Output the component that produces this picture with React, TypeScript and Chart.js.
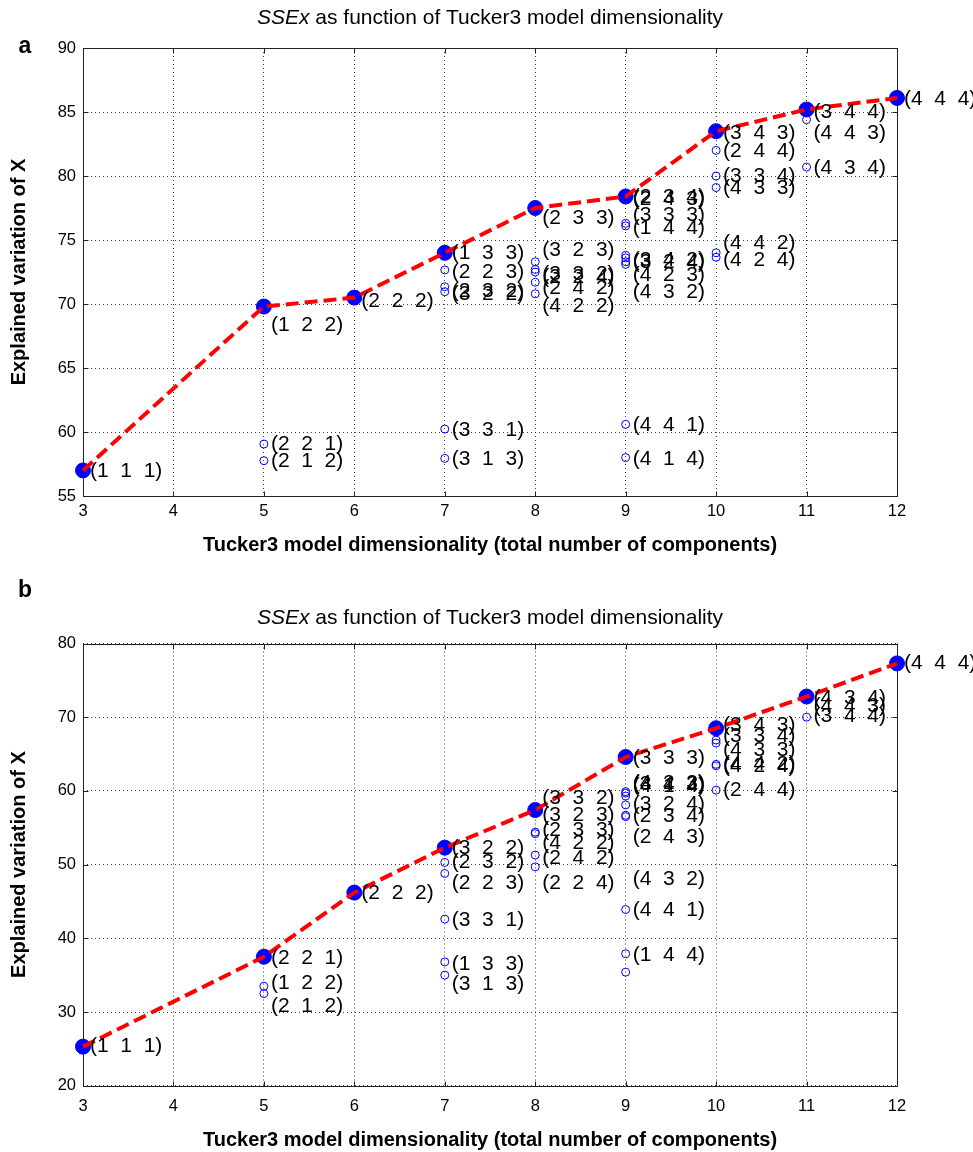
import React, { useEffect, useRef } from "react";
import { Chart, registerables } from "chart.js";

Chart.register(...registerables);

const FONT = '"Liberation Sans", Arial, Helvetica, sans-serif';

// ---------- shared axis data ----------
const xTickValues = [3, 4, 5, 6, 7, 8, 9, 10, 11, 12];
const yTickValuesA = [55, 60, 65, 70, 75, 80, 85, 90];
const yTickValuesB = [20, 30, 40, 50, 60, 70, 80];

const titleRest = " as function of Tucker3 model dimensionality";
const titleItalic = "SSEx";
const xAxisTitle = "Tucker3 model dimensionality (total number of components)";
const yAxisTitle = "Explained variation of X";

// ---------- panel a ----------
const mainXA = [3, 5, 6, 7, 8, 9, 10, 11, 12];
const mainYA = [57.0, 69.8, 70.5, 74.0, 77.5, 78.4, 83.5, 85.2, 86.1];
const mainLabelsA = ["(1  1  1)", "(1  2  2)", "(2  2  2)", "(1  3  3)", "(2  3  3)", "(2  3  4)", "(3  4  3)", "(3  4  4)", "(4  4  4)"];
const mainLabelYA = [56.95, 68.36, 70.18, 73.96, 76.7, 78.36, 83.36, 85.02, 86.0];

const otherXA = [5, 5, 7, 7, 7, 7, 7, 8, 8, 8, 8, 8, 9, 9, 9, 9, 9, 9, 9, 9, 9, 10, 10, 10, 10, 10, 11, 11];
const otherYA = [59.06, 57.76, 72.66, 71.35, 70.96, 60.23, 57.94, 73.3, 72.7, 72.5, 71.7, 70.8, 78.2, 76.3, 76.1, 73.8, 73.6, 73.3, 73.1, 60.6, 58.0, 82.0, 80.0, 79.1, 74.0, 73.65, 84.4, 80.7];
const otherLabelsA = ["(2  2  1)", "(2  1  2)", "(2  2  3)", "(2  3  2)", "(3  2  2)", "(3  3  1)", "(3  1  3)", "(3  2  3)", "(3  3  2)", "(2  2  4)", "(2  4  2)", "(4  2  2)", "(2  4  3)", "(3  3  3)", "(1  4  4)", "(3  4  2)", "(3  2  4)", "(4  2  3)", "(4  3  2)", "(4  4  1)", "(4  1  4)", "(2  4  4)", "(3  3  4)", "(4  3  3)", "(4  4  2)", "(4  2  4)", "(4  4  3)", "(4  3  4)"];
const otherLabelYA = [59.06, 57.68, 72.52, 71.02, 70.78, 60.16, 57.89, 74.2, 72.34, 72.1, 71.23, 69.79, 78.2, 76.95, 75.94, 73.44, 73.28, 72.27, 70.94, 60.55, 57.87, 81.9, 79.95, 79.04, 74.74, 73.44, 83.34, 80.6];

// ---------- panel b ----------
const mainXB = [3, 5, 6, 7, 8, 9, 10, 11, 12];
const mainYB = [25.3, 37.5, 46.2, 52.3, 57.4, 64.6, 68.5, 72.8, 77.3];
const mainLabelsB = ["(1  1  1)", "(2  2  1)", "(2  2  2)", "(3  2  2)", "(3  3  2)", "(3  3  3)", "(3  4  3)", "(4  3  4)", "(4  4  4)"];
const mainLabelYB = [25.3, 37.33, 46.1, 52.25, 59.0, 64.46, 68.94, 72.6, 77.3];

const otherXB = [5, 5, 7, 7, 7, 7, 7, 8, 8, 8, 8, 8, 9, 9, 9, 9, 9, 9, 9, 9, 9, 10, 10, 10, 10, 10, 11, 11];
const otherYB = [33.5, 32.5, 50.3, 48.8, 42.6, 36.8, 35.0, 57.2, 54.4, 54.2, 51.3, 49.7, 59.9, 59.7, 35.4, 59.3, 58.1, 56.7, 56.5, 43.9, 37.9, 66.9, 66.5, 63.6, 63.4, 60.1, 72.6, 70.0];
const otherLabelsB = ["(1  2  2)", "(2  1  2)", "(2  3  2)", "(2  2  3)", "(3  3  1)", "(1  3  3)", "(3  1  3)", "(3  2  3)", "(2  3  3)", "(4  2  2)", "(2  4  2)", "(2  2  4)", "(4  2  3)", "(3  4  2)", "(4  1  4)", "(3  2  4)", "(2  3  4)", "(2  4  3)", "(4  3  2)", "(4  4  1)", "(1  4  4)", "(3  3  4)", "(4  3  3)", "(4  4  2)", "(4  2  4)", "(2  4  4)", "(4  4  3)", "(3  4  4)"];
const otherLabelYB = [33.94, 30.72, 50.39, 47.46, 42.39, 36.47, 33.8, 56.73, 54.7, 52.89, 50.9, 47.46, 61.1, 60.9, 60.7, 58.2, 56.5, 53.7, 48.0, 43.84, 37.73, 67.36, 65.55, 63.65, 63.38, 60.03, 71.43, 70.07];

type PanelCfg = {
  letter: string;
  top: number;
  height: number;
  padTop: number;
  xAxisHeight: number;
  xTickPad: number;
  xTitlePadBottom: number;
  titleY: number;
  letterY: number;
  yMin: number;
  yMax: number;
  yTicks: number[];
  mainX: number[];
  mainY: number[];
  mainLabels: string[];
  mainLabelY: number[];
  otherX: number[];
  otherY: number[];
  otherLabels: string[];
  otherLabelY: number[];
};

const panels: PanelCfg[] = [
  {
    letter: "a", top: 0, height: 575, padTop: 48, xAxisHeight: 79, xTickPad: 6, xTitlePadBottom: 18,
    titleY: 18, letterY: 47, yMin: 55, yMax: 90, yTicks: yTickValuesA,
    mainX: mainXA, mainY: mainYA, mainLabels: mainLabelsA, mainLabelY: mainLabelYA,
    otherX: otherXA, otherY: otherYA, otherLabels: otherLabelsA, otherLabelY: otherLabelYA,
  },
  {
    letter: "b", top: 575, height: 577, padTop: 68.5, xAxisHeight: 66.3, xTickPad: 11, xTitlePadBottom: 0,
    titleY: 43, letterY: 16, yMin: 20, yMax: 80, yTicks: yTickValuesB,
    mainX: mainXB, mainY: mainYB, mainLabels: mainLabelsB, mainLabelY: mainLabelYB,
    otherX: otherXB, otherY: otherYB, otherLabels: otherLabelsB, otherLabelY: otherLabelYB,
  },
];

function makeOverlay(cfg: PanelCfg) {
  return {
    id: "overlay" + cfg.letter,
    beforeDatasetsDraw(chart: any) {
      const { ctx, chartArea } = chart;
      const xs = chart.scales.x;
      const ys = chart.scales.y;
      ctx.save();
      ctx.strokeStyle = "#222";
      ctx.lineWidth = 1;
      ctx.setLineDash([]);
      const l = Math.round(chartArea.left) + 0.5;
      const r = Math.round(chartArea.right) + 0.5;
      const t = Math.round(chartArea.top) + 0.5;
      const b = Math.round(chartArea.bottom) + 0.5;
      ctx.strokeRect(l, t, r - l, b - t);
      const tl = 5;
      ctx.beginPath();
      xTickValues.forEach((v) => {
        const px = Math.round(xs.getPixelForValue(v)) + 0.5;
        ctx.moveTo(px, b);
        ctx.lineTo(px, b - tl);
        ctx.moveTo(px, t);
        ctx.lineTo(px, t + tl);
      });
      cfg.yTicks.forEach((v) => {
        const py = Math.round(ys.getPixelForValue(v)) + 0.5;
        ctx.moveTo(l, py);
        ctx.lineTo(l + tl, py);
        ctx.moveTo(r, py);
        ctx.lineTo(r - tl, py);
      });
      ctx.stroke();
      ctx.restore();
    },
    afterDatasetsDraw(chart: any) {
      const { ctx } = chart;
      const xs = chart.scales.x;
      const ys = chart.scales.y;
      ctx.save();
      ctx.fillStyle = "#000";
      ctx.font = `21px ${FONT}`;
      ctx.textAlign = "left";
      ctx.textBaseline = "middle";
      const put = (x: number, y: number, s: string) => {
        ctx.fillText(s, xs.getPixelForValue(x) + 7, ys.getPixelForValue(y));
      };
      cfg.mainX.forEach((x, i) => put(x, cfg.mainLabelY[i], cfg.mainLabels[i]));
      cfg.otherX.forEach((x, i) => put(x, cfg.otherLabelY[i], cfg.otherLabels[i]));
      ctx.restore();
    },
    afterDraw(chart: any) {
      const { ctx, chartArea } = chart;
      ctx.save();
      ctx.fillStyle = "#000";
      ctx.textBaseline = "middle";
      ctx.textAlign = "left";
      const italicFont = `italic 21px ${FONT}`;
      const normalFont = `21px ${FONT}`;
      ctx.font = italicFont;
      const w1 = ctx.measureText(titleItalic).width;
      ctx.font = normalFont;
      const w2 = ctx.measureText(titleRest).width;
      const cx = (chartArea.left + chartArea.right) / 2;
      const x0 = cx - (w1 + w2) / 2;
      ctx.font = italicFont;
      ctx.fillText(titleItalic, x0, cfg.titleY);
      ctx.font = normalFont;
      ctx.fillText(titleRest, x0 + w1, cfg.titleY);
      ctx.font = `bold 23px ${FONT}`;
      ctx.textAlign = "center";
      ctx.fillText(cfg.letter, 25, cfg.letterY);
      ctx.restore();
    },
  };
}

function Panel({ cfg }: { cfg: PanelCfg }) {
  const ref = useRef<HTMLCanvasElement>(null);
  useEffect(() => {
    const canvas = ref.current;
    if (!canvas) return;
    const gridColor = "rgba(0,0,0,0.75)";
    const chart = new Chart(canvas, {
      type: "scatter",
      data: {
        datasets: [
          {
            label: "best",
            data: cfg.mainX.map((x, i) => ({ x, y: cfg.mainY[i] })),
            showLine: true,
            borderColor: "#ff0000",
            borderWidth: 4,
            borderDash: [13, 6],
            borderCapStyle: "butt",
            pointRadius: 0,
            pointHoverRadius: 0,
            fill: false,
            tension: 0,
            clip: false,
          } as any,
          {
            label: "best markers",
            data: cfg.mainX.map((x, i) => ({ x, y: cfg.mainY[i] })),
            showLine: false,
            pointRadius: 7.5,
            pointBackgroundColor: "#0000ff",
            pointBorderColor: "#0000ff",
            pointBorderWidth: 1,
            clip: false,
          } as any,
          {
            label: "other models",
            data: cfg.otherX.map((x, i) => ({ x, y: cfg.otherY[i] })),
            showLine: false,
            pointRadius: 4,
            pointBackgroundColor: "rgba(0,0,0,0)",
            pointBorderColor: "#0000ff",
            pointBorderWidth: 1,
            clip: false,
          } as any,
        ],
      },
      options: {
        responsive: false,
        animation: false,
        devicePixelRatio: 1,
        events: [],
        layout: { padding: { top: cfg.padTop, right: 76, left: 0, bottom: 0 } },
        plugins: {
          legend: { display: false },
          tooltip: { enabled: false },
          title: { display: false },
        },
        scales: {
          x: {
            type: "linear",
            min: 3,
            max: 12,
            afterBuildTicks: (s: any) => {
              s.ticks = xTickValues.map((v) => ({ value: v }));
            },
            afterFit: (s: any) => {
              s.height = cfg.xAxisHeight;
            },
            grid: { color: gridColor, lineWidth: 1, drawTicks: false },
            border: { display: false, dash: [1, 3] },
            ticks: {
              padding: cfg.xTickPad,
              autoSkip: false,
              maxRotation: 0,
              color: "#000",
              font: { family: FONT, size: 16.5 },
            },
            title: {
              display: true,
              text: xAxisTitle,
              color: "#000",
              font: { family: FONT, size: 20, weight: "bold" },
              padding: { top: 0, bottom: cfg.xTitlePadBottom },
            },
          },
          y: {
            type: "linear",
            min: cfg.yMin,
            max: cfg.yMax,
            afterBuildTicks: (s: any) => {
              s.ticks = cfg.yTicks.map((v) => ({ value: v }));
            },
            afterFit: (s: any) => {
              s.width = 83;
            },
            grid: { color: gridColor, lineWidth: 1, drawTicks: false },
            border: { display: false, dash: [1, 3] },
            ticks: {
              padding: 7,
              autoSkip: false,
              color: "#000",
              font: { family: FONT, size: 16.5 },
            },
            title: {
              display: true,
              text: yAxisTitle,
              color: "#000",
              font: { family: FONT, size: 20, weight: "bold" },
              padding: { top: 7, bottom: 0 },
            },
          },
        },
      } as any,
      plugins: [makeOverlay(cfg)],
    });
    return () => chart.destroy();
  }, []);
  return (
    <canvas
      ref={ref}
      width={973}
      height={cfg.height}
      style={{ position: "absolute", left: 0, top: cfg.top, width: 973, height: cfg.height, display: "block" }}
    />
  );
}

export default function App() {
  return (
    <div style={{ position: "absolute", left: 0, top: 0, width: 973, height: 1152, background: "#fff" }}>
      {panels.map((p) => (
        <Panel key={p.letter} cfg={p} />
      ))}
    </div>
  );
}
